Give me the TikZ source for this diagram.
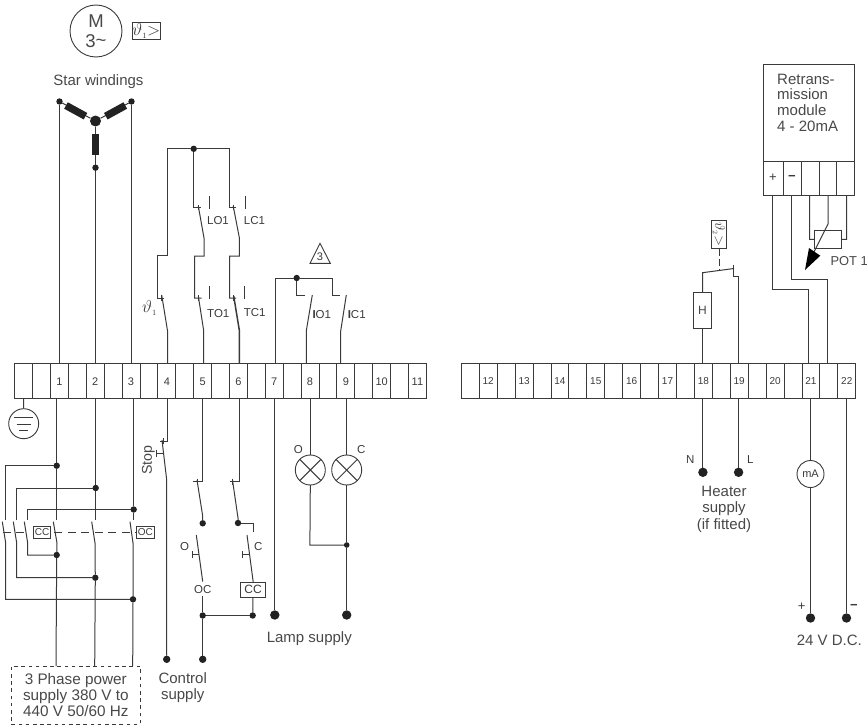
\documentclass[tikz,border=0pt]{standalone}
\usepackage{fontspec}
\setmainfont{Liberation Sans}
\definecolor{ink}{HTML}{3A3A3A}
\definecolor{txt}{HTML}{484848}
\definecolor{solid}{HTML}{222222}
\tikzset{
  wire/.style={draw=ink,line width=1pt,line join=miter},
  hwire/.style={draw=ink,line width=1.5pt},
  cell/.style={draw=ink,line width=0.9pt,minimum width=17.93pt,minimum height=35pt,inner sep=0pt,outer sep=0pt},
  tag/.style={font=\fontsize{15}{16}\selectfont,text=txt,inner sep=0pt,align=center},
  lab/.style={font=\fontsize{11.5}{13}\selectfont,text=ink,inner sep=0pt},
  bx/.style={draw=ink,line width=0.9pt,inner sep=0pt,outer sep=0pt,fill=white},
  jdot/.style={circle,fill=solid,inner sep=0pt,outer sep=0pt,minimum size=6.4pt},
  tdot/.style={circle,fill=solid,inner sep=0pt,outer sep=0pt,minimum size=9.4pt},
  roundbox/.style={circle,draw=ink,line width=0.9pt,inner sep=0pt,outer sep=0pt,fill=white},
  winding/.style={line width=7.4pt,draw=solid},
  pulse/.style={draw=ink,line width=1pt,dash pattern=on 8pt off 5.5pt},
}
\begin{document}
\begin{tikzpicture}[x=1pt,y=-1pt]
\useasboundingbox (0,0) rectangle (867,725);
% terminal strips
\foreach \i in {0,...,22}{\node[cell] (a\i) at ({14.7+(\i+0.5)*17.9},381.3) {};}
\foreach \i in {0,...,21}{\node[cell] (b\i) at ({461.3+(\i+0.5)*17.93},381.3) {};}
\foreach \i/\t in {2/1,4/2,6/3,8/4,10/5,12/6,14/7,16/8,18/9,20/10,22/11}{\node[lab,font=\fontsize{11}{12}\selectfont] at (a\i) {\t};}
\foreach \i/\t in {1/12,3/13,5/14,7/15,9/16,11/17,13/18,15/19,17/20,19/21,21/22}{\node[lab,font=\fontsize{10}{12}\selectfont] at (b\i) {\t};}
% motor
\node[roundbox,minimum size=52pt,align=center,font=\fontsize{18.5}{20}\selectfont,text=txt] (motor) at (96,31) {M\\3\raisebox{0.5pt}{\textasciitilde}};
\node[bx,minimum width=28.7pt,minimum height=16.6pt,font=\fontsize{16}{16}\selectfont,text=ink] (therm1) at (146.3,31) {$\vartheta_{\scriptscriptstyle 1}{>}$};
\node[tag] (star) at (98.5,81.5) {Star windings};
% star
\node[jdot] (s1) at (59.5,101.5) {};
\node[jdot] (s3) at (131.5,101.5) {};
\node[circle,fill=solid,inner sep=0,minimum size=11pt] (sc) at (95.5,121) {};
\node[jdot] (s2) at (95.5,167.7) {};
\draw[wire] (s1) -- (sc) -- (s3);
\draw[wire] (sc) -- (s2);
\draw[winding] (66,105.5) -- (85.5,116.2);
\draw[winding] (125.3,105.5) -- (105.8,116.2);
\draw[winding] (95.5,134) -- (95.5,155);
\draw[wire] (s1) -- (a2.north -| s1);
\draw[wire] (s2) -- (a4.north -| s2);
\draw[wire] (s3) -- (a6.north -| s3);
% upper control
\node[jdot] (top) at (193.7,148.8) {};
\draw[wire] (a8.north -| 167.5,0) -- (167.5,330.7) -- (161.7,295);
\draw[wire] (top) -- (167.5,148.8) -- (167.5,255.7) -- (157.5,255.7) -- (157.5,298) -- (164.3,298);
\draw[wire] (161.7,295) -- (161.7,301);
\draw[wire] (top) -- (229.7,148.8) -- (229.7,207.3) -- (236,207.3);
\draw[wire] (top) -- (193.7,207.3) -- (200.5,207.3);
\draw[wire] (198.3,204.5) -- (198.3,210);
\draw[wire] (233.6,204.5) -- (233.6,210);
\draw[wire] (198.3,206) -- (204,238) -- (204,256) -- (194.5,256) -- (194.5,298) -- (201.7,298);
\draw[wire] (233.2,206) -- (239.4,238) -- (239.4,256) -- (229.7,256) -- (229.7,298) -- (236,298);
\draw[wire] (198.3,295) -- (198.3,301);
\draw[wire] (233.7,295) -- (233.7,301);
\draw[wire] (198.3,296) -- (203.7,330.7) -- (a10.north -| 203.7,0);
\draw[hwire] (233.7,296) -- (239.4,330.7) -- (a12.north -| 239.4,0);
\foreach \x/\a/\b in {209.5/195.7/208.7,245.5/195.7/208.7,209.5/286/299,244.5/286/299}{\draw[wire] (\x,\a) -- (\x,\b);}
\node[lab] (lo) at (218,220.5) {LO1};
\node[lab] (lc) at (254.5,221) {LC1};
\node[lab] (to) at (218.3,313.5) {TO1};
\node[lab] (tc) at (254.7,313) {TC1};
\node[lab,text=ink,font=\fontsize{17}{17}\selectfont] (th1) at (149.5,308) {$\vartheta_{\scriptscriptstyle 1}$};
% lamp-relay contacts
\node[jdot] (lamptop) at (296.7,278) {};
\draw[wire] (a14.north -| 275.5,0) -- (275.5,278) -- (lamptop) -- (332.5,278) -- (332.5,295.3) -- (339.7,295.3);
\draw[wire] (lamptop) -- (296.7,295.7) -- (305.3,295.7);
\draw[wire] (312.3,295) -- (306.3,330.7) -- (a16.north -| 306.3,0);
\draw[wire] (346.3,295) -- (340.7,331) -- (a18.north -| 340.7,0);
\node[lab] (io) at (321.8,314.3) {\textbf{I}O1};
\node[lab] (ic) at (356.7,314.3) {\textbf{I}C1};
\coordinate (triA) at (320,243.3);
\coordinate (triB) at (330.3,263.3);
\coordinate (triC) at (310,263.3);
\draw[draw=ink,line width=0.9pt] (triA) -- (triB) -- (triC) -- cycle;
\node[lab,font=\fontsize{11}{12}\selectfont] (tri3) at (320,257) {3};
% ground
\node[roundbox,minimum size=30pt] (earth) at (23.7,423.7) {};
\draw[wire] (a0.south) -- (earth.north);
\draw[wire] (14.3,417.5) -- (33.3,417.5);
\draw[wire] (16.7,424.5) -- (30.7,424.5);
\draw[wire] (19.3,430.5) -- (28,430.5);
% main contactor
\node[jdot] (j1) at (56.7,465.7) {};
\node[jdot] (j2) at (95.7,488) {};
\node[jdot] (j3) at (133.7,509.5) {};
\node[jdot] (k1) at (56.7,555) {};
\node[jdot] (k2) at (95.3,577.7) {};
\node[jdot] (k3) at (133,599.3) {};
\draw[wire] (a2.south -| j1) -- (j1) -- (56.7,520);
\draw[wire] (a4.south -| j2) -- (j2) -- (95.7,520);
\draw[wire] (a6.south -| j3) -- (j3) -- (133.7,520);
\draw[wire] (j1) -- (5.7,465.7) -- (5.7,520);
\draw[wire] (j2) -- (16.3,488) -- (16.3,520);
\draw[wire] (j3) -- (27.3,509.5) -- (27.3,520);
\draw[wire] (2.3,521.7) -- (5.7,543) -- (5.7,599.3) -- (k3);
\draw[wire] (13.3,521.7) -- (16.7,543) -- (16.7,577.7) -- (k2);
\draw[wire] (24.3,521.7) -- (27.7,543) -- (27.7,555) -- (k1);
\draw[wire] (53.3,521.7) -- (57,543) -- (k1);
\draw[wire] (91.7,521.7) -- (95,543) -- (k2);
\draw[wire] (130,521.7) -- (133,543) -- (k3);
\node[draw=ink,dash pattern=on 3.6pt off 3.6pt,line width=0.9pt,minimum width=129pt,minimum height=58pt,inner sep=0pt,outer sep=0pt,align=center,font=\fontsize{15.3}{15.9}\selectfont,text=txt] (supply) at (75.8,695) {3 Phase power\\supply 380 V to\\440 V 50/60 Hz};
\draw[wire] (k1) -- (56,666);
\draw[wire] (k2) -- (94.7,666);
\draw[wire] (k3) -- (132.7,666);
\node[bx,minimum width=17pt,minimum height=11.6pt,font=\fontsize{10}{10}\selectfont,text=ink] (cc1) at (42.2,532.5) {CC};
\node[bx,minimum width=17.3pt,minimum height=11.6pt,font=\fontsize{10}{10}\selectfont,text=ink] (oc1) at (145.3,532.5) {OC};
\coordinate (dashstart) at (2.5,532.5);
\coordinate (dashstop) at (25,532.5);
\coordinate (dashmid) at (54,532.5);
\draw[pulse] (dashstart) -- (dashstop);
\draw[pulse] (dashmid) -- (oc1.west);
% control circuits below strip
\node[jdot,minimum size=7.4pt] (c1) at (166.7,659.3) {};
\node[jdot,minimum size=7.4pt] (c2) at (202.7,659.3) {};
\draw[wire] (a8.south -| 167.5,0) -- (167.5,441) -- (160,441);
\draw[wire] (163,438) -- (163,444);
\draw[wire] (162,440) -- (166.7,480) -- (c1);
\draw[wire] (164,453.3) -- (156.7,453.3);
\draw[wire] (156.7,450) -- (156.7,456.6);
\node[tag,rotate=90,font=\fontsize{14.2}{15}\selectfont] (stop) at (148.3,460) {Stop};
\draw[wire] (a10.south -| 202.5,0) -- (202.5,481.7) -- (193.3,481.7);
\draw[wire] (197,478.5) -- (197,485);
\node[jdot] (o1) at (202.7,523.3) {};
\draw[wire] (197,480) -- (202.7,516) -- (o1);
\draw[wire] (196.3,535) -- (202.7,581.5);
\draw[wire] (199,554.3) -- (192.3,554.3);
\draw[wire] (192.3,551) -- (192.3,557.6);
\node[lab] (olab) at (184.5,546.7) {O};
\node[lab,font=\fontsize{11.5}{12}\selectfont] (oc2) at (202.7,590) {OC};
\node[jdot] (o2) at (202.7,615.5) {};
\draw[wire] (202.7,596) -- (o2) -- (c2);
\draw[wire] (a12.south -| 239.3,0) -- (239.3,481.7) -- (230,481.7);
\draw[wire] (232.5,478.5) -- (232.5,485);
\node[jdot] (q1) at (238,523) {};
\draw[wire] (232.5,480) -- (238,518) -- (q1);
\draw[wire] (q1) -- (253.7,523) -- (253.7,531.7);
\draw[wire] (247,535) -- (253.3,582.7);
\draw[wire] (250,554.3) -- (242.7,554.3);
\draw[wire] (242.7,551) -- (242.7,557.6);
\node[lab] (clab) at (258.3,546.7) {C};
\node[bx,minimum width=25.4pt,minimum height=14.4pt,font=\fontsize{12}{12}\selectfont,text=ink] (cc2) at (253,589.8) {CC};
\node[jdot] (q2) at (252.7,615.5) {};
\draw[wire] (cc2.south) -- (q2);
\draw[wire] (o2) -- (q2);
\node[tag,font=\fontsize{15}{16.6}\selectfont] (ctrl) at (182.7,687.5) {Control\\supply};
% lamps
\node[tdot] (l7) at (274.8,615) {};
\node[tdot] (l9) at (346.7,615) {};
\draw[wire] (a14.south -| l7) -- (l7);
\node[roundbox,minimum size=30pt] (lo) at (310.3,470) {};
\node[roundbox,minimum size=30pt] (lcc) at (346.7,470) {};
\draw[wire] (lo.north west) -- (lo.south east);
\draw[wire] (lo.north east) -- (lo.south west);
\draw[wire] (lcc.north west) -- (lcc.south east);
\draw[wire] (lcc.north east) -- (lcc.south west);
\draw[wire] (a16.south -| lo) -- (lo.north);
\node[jdot,minimum size=5.6pt] (lj) at (346.7,545) {};
\draw[wire] (a18.south -| lcc) -- (lcc.north);
\draw[wire] (lcc.south) -- (lj) -- (l9);
\draw[wire] (lo.south) -- (309.9,545) -- (lj);
\node[lab] (ol) at (298.3,450) {O};
\node[lab] (cl) at (361.3,450) {C};
\node[tag] (lampsup) at (309.3,639) {Lamp supply};
% retransmission module
\node[bx,minimum width=90.3pt,minimum height=97pt] (mod) at (808.85,112.8) {};
\node[tag,align=left,anchor=north west,font=\fontsize{15}{15.9}\selectfont] (modt) at (777,73.5) {Retrans-\\mission\\module\\4 - 20mA};
\foreach \x/\n in {763.7/m0,783/m1,801/m2,819/m3,836.7/m4}{\coordinate (\n) at (\x,161.3);}
\draw[wire] (m0) rectangle (854,195);
\foreach \n in {m1,m2,m3,m4}{\draw[wire] (\n) -- ++(0,33.7);}
\node[lab,font=\fontsize{13}{13}\selectfont] (mp) at (773,177.7) {+};
\node[lab,font=\bfseries\fontsize{13}{13}\selectfont] (mm) at (792,177.7) {\textminus};
\draw[wire] (772.5,195) -- (772.5,289.3) -- (808.5,289.3) -- (b19.north -| 808.5,0);
\draw[wire] (791.5,195) -- (791.5,279.3) -- (827.5,279.3) -- (b20.north -| 827.5,0);
% potentiometer
\node[bx,fill=none,minimum width=27.4pt,minimum height=17.6pt] (pot) at (828,239.5) {};
\draw[wire] (809.7,195) -- (809.7,239.3) -- (pot.west);
\draw[wire] (846.5,195) -- (846.5,239.3) -- (pot.east);
\draw[wire] (828,195) -- (828,224) -- (814,252);
\coordinate (tip) at (805,270);
\fill[solid] (tip) -- (809,248) -- (820.3,255.7) -- cycle;
\node[tag,anchor=west,font=\fontsize{12.9}{14}\selectfont] (pottxt) at (830.3,261) {POT 1};
% heater
\node[bx,minimum width=15.4pt,minimum height=28.4pt] (therm2) at (719,234.5) {};
\node[rotate=-90,inner sep=0pt,font=\fontsize{15}{15}\selectfont,text=ink] (th2) at (719,234.5) {$\vartheta_{\scriptscriptstyle 2}{>}$};
\coordinate (dashend) at (719,270.6);
\draw[draw=ink,line width=1pt,dash pattern=on 7pt off 3pt] (therm2.south) -- (dashend);
\node[bx,minimum width=18pt,minimum height=36pt,font=\fontsize{12}{12}\selectfont,text=txt] (heat) at (702.5,310.7) {H};
\draw[wire] (heat.north) -- (702.5,272.7) -- (734,268.5);
\draw[wire] (733.3,265) -- (733.3,276.7) -- (738.5,276.7) -- (b15.north -| 738.5,0);
\draw[wire] (heat.south) -- (b13.north -| heat);
\node[tdot] (nd) at (702.9,472.3) {};
\node[tdot] (ld) at (738.6,472.3) {};
\draw[wire] (b13.south -| nd) -- (nd);
\draw[wire] (b15.south -| ld) -- (ld);
\node[lab] (nl) at (690.3,460) {N};
\node[lab] (ll) at (750.3,460) {L};
\node[tag,font=\fontsize{15}{16.5}\selectfont] (heatsup) at (724,509) {Heater\\supply\\(if fitted)};
% meter
\node[roundbox,minimum size=27pt,font=\fontsize{11}{11}\selectfont,text=ink] (ma) at (810.5,474) {mA};
\node[tdot] (pd) at (810.5,618) {};
\node[tdot] (md) at (846.5,618) {};
\draw[wire] (b19.south -| ma) -- (ma.north);
\draw[wire] (ma.south) -- (pd);
\draw[wire] (b21.south -| md) -- (md);
\node[lab,font=\fontsize{13}{13}\selectfont] (pl) at (801.7,607) {+};
\node[lab,font=\bfseries\fontsize{13}{13}\selectfont] (ml) at (854,607) {\textminus};
\node[tag] (dc) at (829.3,640) {24 V D.C.};
\end{tikzpicture}
\end{document}
